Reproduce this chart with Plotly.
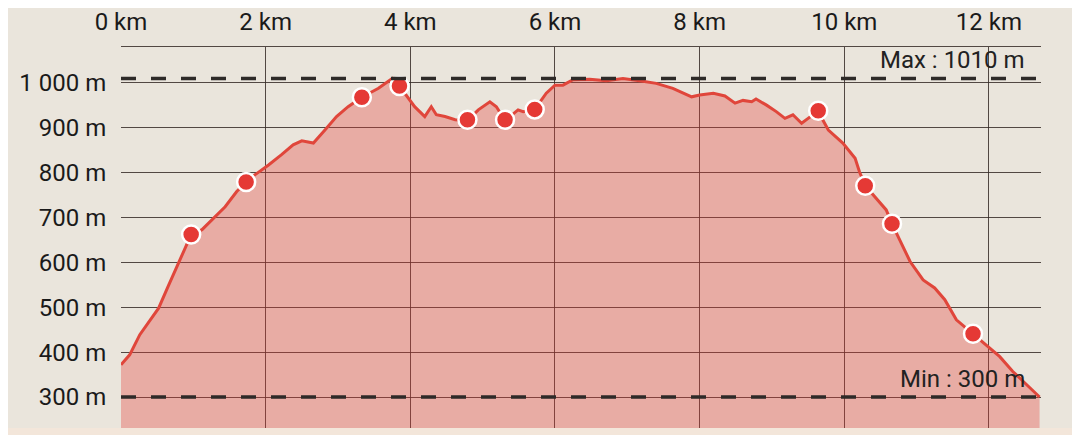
'''
    Elevation profile of a hike, drawn with plotly.
'''

import plotly.graph_objects as go

# profile: distance (km) and elevation (m)
distance_km = [0.00, 0.12, 0.26, 0.38, 0.52, 0.65, 0.79, 0.91, 0.97, 1.12,
               1.28, 1.44, 1.60, 1.73, 1.85, 2.04, 2.22, 2.38, 2.50, 2.66,
               2.82, 2.98, 3.14, 3.33, 3.56, 3.75, 3.85, 3.95, 4.06, 4.20,
               4.29, 4.36, 4.48, 4.62, 4.79, 4.94, 5.10, 5.19, 5.31, 5.49,
               5.56, 5.72, 5.88, 6.00, 6.11, 6.25, 6.48, 6.71, 6.94, 7.17,
               7.40, 7.63, 7.89, 8.00, 8.19, 8.35, 8.49, 8.60, 8.72, 8.78,
               8.92, 9.06, 9.18, 9.29, 9.41, 9.50, 9.64, 9.66, 9.78, 9.98,
               10.15, 10.21, 10.29, 10.58, 10.66, 10.91, 11.09, 11.25, 11.39, 11.55,
               11.78, 12.01, 12.15, 12.33, 12.52, 12.70]
elevation_m = [372, 394, 439, 465, 498, 546, 598, 643, 662, 673,
               699, 724, 758, 779, 795, 817, 840, 862, 871, 866,
               895, 925, 947, 968, 988, 1010, 993, 970, 947, 925,
               947, 929, 925, 918, 916, 940, 958, 947, 916, 940,
               936, 941, 977, 995, 995, 1007, 1008, 1005, 1010, 1005,
               999, 988, 969, 973, 977, 971, 955, 961, 958, 964,
               951, 936, 921, 929, 910, 921, 938, 930, 895, 866,
               832, 802, 771, 717, 686, 602, 561, 543, 517, 472,
               441, 409, 390, 357, 327, 300]

# waypoints along the route
waypoint_km = [0.97, 1.73, 3.33, 3.85, 4.79, 5.31, 5.72, 9.64, 10.29, 10.66, 11.78]
waypoint_m = [662, 779, 968, 993, 918, 918, 941, 938, 771, 686, 441]

# axis ticks
x_ticks = [0, 2, 4, 6, 8, 10, 12]
x_tick_labels = ['0 km', '2 km', '4 km', '6 km', '8 km', '10 km', '12 km']
y_ticks = [300, 400, 500, 600, 700, 800, 900, 1000]
y_tick_labels = ['300 m', '400 m', '500 m', '600 m', '700 m', '800 m', '900 m', '1 000 m']

BG = '#EAE5DC'
GRID = 'rgba(55,45,40,0.85)'
FONT = 'Roboto'

max_m = max(elevation_m)
min_m = min(elevation_m)

fig = go.Figure()

fig.add_trace(go.Scatter(
    x=distance_km, y=elevation_m, mode='lines',
    line=dict(color='#E0463B', width=3),
    fill='tozeroy', fillcolor='rgba(229,57,53,0.33)',
    hoverinfo='skip', showlegend=False))

fig.add_trace(go.Scatter(
    x=waypoint_km, y=waypoint_m, mode='markers',
    marker=dict(color='#E53935', size=18, line=dict(color='white', width=2.5)),
    showlegend=False))

# dashed max / min lines
for level in (max_m, min_m):
    fig.add_shape(type='line', xref='paper', x0=0, x1=1, y0=level, y1=level,
                  line=dict(color='#2E2A28', width=3.5, dash='15px,15px'),
                  layer='above')

fig.add_annotation(x=1, xref='paper', xshift=-14, y=max_m, yshift=18,
                   text='Max : %d m' % max_m, showarrow=False, xanchor='right',
                   font=dict(family=FONT, size=24, color='#222'))
fig.add_annotation(x=1, xref='paper', xshift=-14, y=min_m, yshift=18,
                   text='Min : %d m' % min_m, showarrow=False, xanchor='right',
                   font=dict(family=FONT, size=24, color='#222'))

# light strip under the plot
fig.add_shape(type='rect', xref='paper', yref='paper', x0=-0.2, x1=1.2, y0=-0.05, y1=0,
              fillcolor='#F3E6DA', line=dict(width=0), layer='below')

# the page puts the figure 8px in from the top left corner, so the
# figure is 8px smaller to fit the window
fig.update_layout(
    width=1072, height=427,
    margin=dict(l=113, r=39, t=39, b=7),
    paper_bgcolor=BG, plot_bgcolor=BG,
    font=dict(family=FONT, size=24, color='#1A1A1A'),
    xaxis=dict(side='top', range=[0, 12.72], tickvals=x_ticks, ticktext=x_tick_labels,
               showgrid=True, gridcolor=GRID, gridwidth=1, zeroline=False,
               showline=True, linecolor=GRID, linewidth=1, automargin=False,
               ticks='outside', ticklen=6, tickcolor='rgba(0,0,0,0)'),
    yaxis=dict(range=[231, 1080], tickvals=y_ticks, ticktext=y_tick_labels,
               showgrid=True, gridcolor=GRID, gridwidth=1, zeroline=False,
               automargin=False,
               ticks='outside', ticklen=9, tickcolor='rgba(0,0,0,0)'),
)

fig.write_html('out.html')
